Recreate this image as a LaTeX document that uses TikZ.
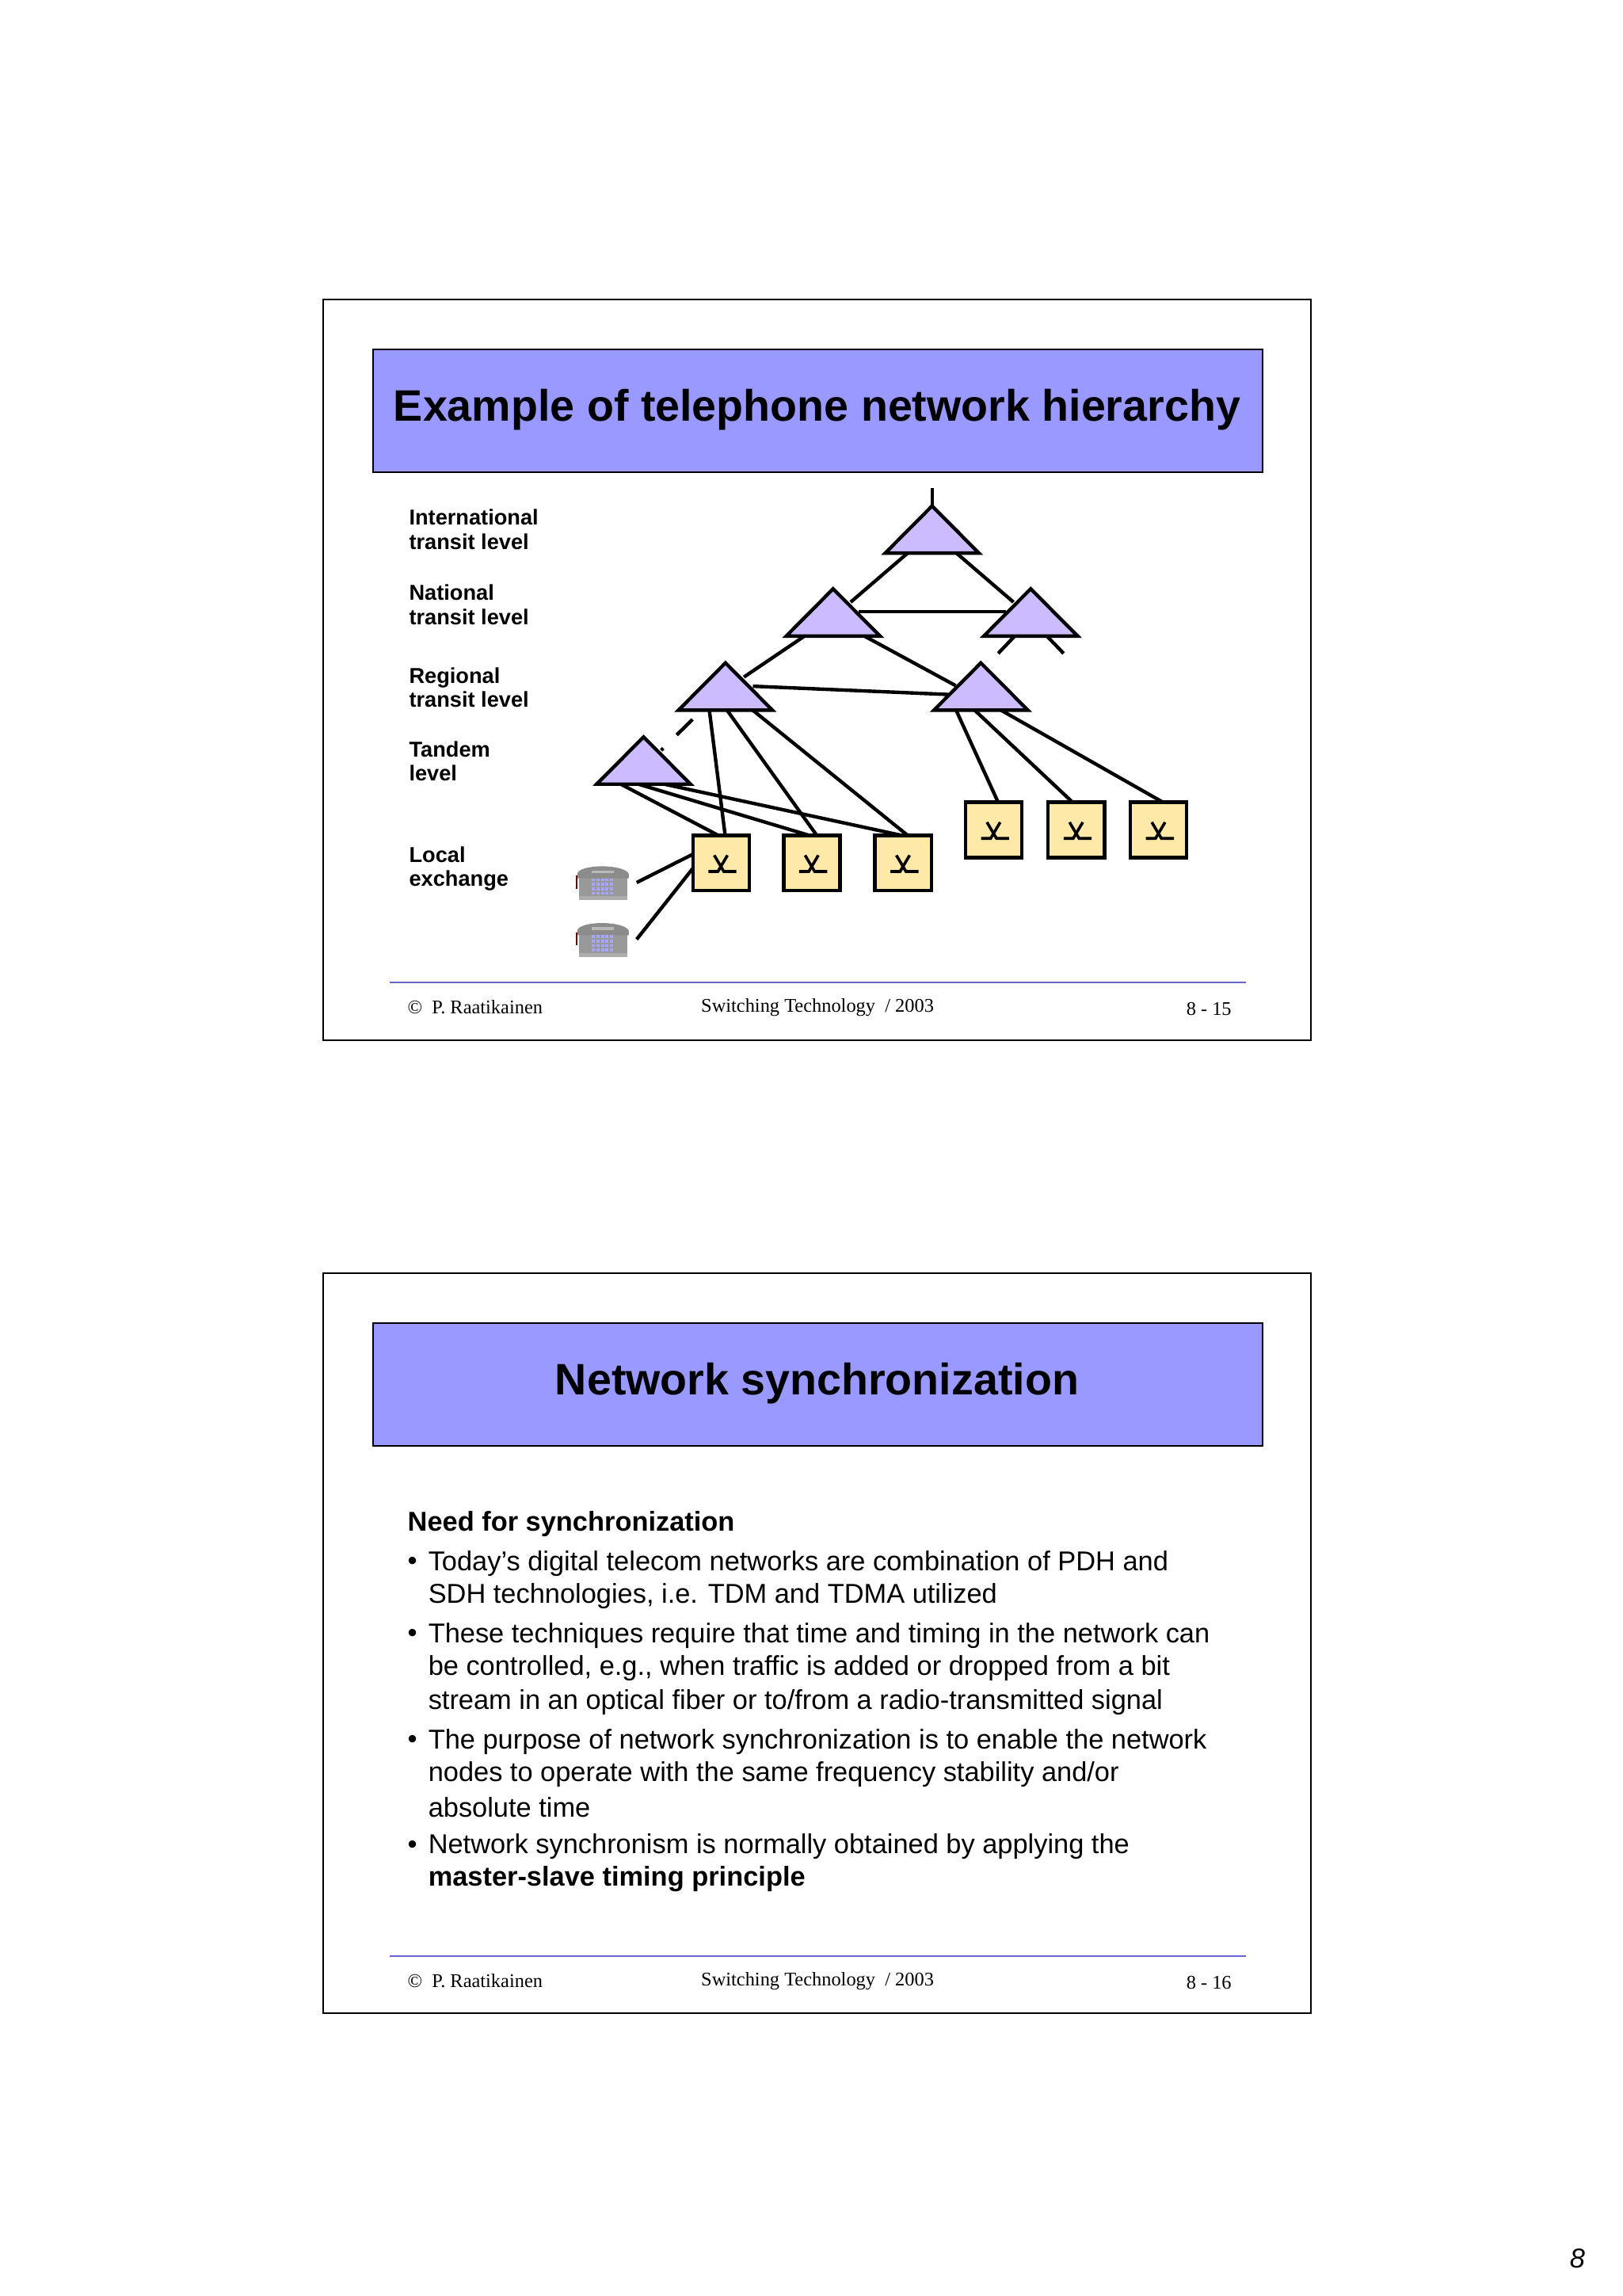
\documentclass[tikz,border=0pt]{standalone}
\usepackage{fontspec}
\setmainfont{Liberation Sans}
\newfontfamily\serifft{Liberation Serif}
\begin{document}
\begin{tikzpicture}[x=0.4655pt,y=-0.4655pt,
  tri/.style={fill=triC,draw=black,line width=1.1pt,line join=miter},
  lexbox/.style={draw=black,fill=boxC,line width=1.1pt},
  wire/.style={line width=1.1pt},
  lvl/.style={anchor=west,font=\fontsize{6.8}{7.6}\selectfont\bfseries,align=left,inner sep=0pt},
  foot/.style={anchor=west,font=\serifft\fontsize{6.1}{6.5}\selectfont,inner sep=0pt},
  body/.style={anchor=west,font=\fontsize{8.6}{10}\selectfont,inner sep=0pt}]
\definecolor{triC}{HTML}{CCBBFF}
\definecolor{boxC}{HTML}{FFE9A8}
\definecolor{titC}{HTML}{9999FF}
\definecolor{footC}{HTML}{6666CC}
\useasboundingbox (0,0) rectangle (1100,1556.5);
\fill[white] (0,0) rectangle (1100,1556.5);
% frames
\draw[line width=0.5pt] (219,203) rectangle (889,705);
\draw[line width=0.5pt] (219,863) rectangle (889,1365);
\draw[fill=titC,line width=0.5pt] (253,237) rectangle (856,320);
\draw[fill=titC,line width=0.5pt] (253,897) rectangle (856,980);
\node[font=\fontsize{13.9}{15}\selectfont\bfseries] (t1) at (554,278) {Example of telephone network hierarchy};
\node[font=\fontsize{13.9}{15}\selectfont\bfseries] (t2) at (554,938) {Network synchronization};
% footers
\draw[footC,line width=0.6pt] (264,666) -- (845,666);
\draw[footC,line width=0.6pt] (264,1326) -- (845,1326);
\node[foot] (f1a) at (276,683) {© \ P. Raatikainen};
\node[foot] (f1b) at (475,683) {Switching Technology \ / 2003};
\node[foot] (f1c) at (804,684) {8 - 15};
\node[foot] (f2a) at (276,1343) {© \ P. Raatikainen};
\node[foot] (f2b) at (475,1343) {Switching Technology \ / 2003};
\node[foot] (f2c) at (804,1344) {8 - 16};
\node[anchor=west,font=\fontsize{8.6}{9}\selectfont\itshape,inner sep=0pt] (pg) at (1064,1531) {8};
% level labels
\node[lvl] (l1) at (277,359) {International\\transit level};
\node[lvl] (l2) at (277,410) {National\\transit level};
\node[lvl] (l3) at (277,466) {Regional\\transit level};
\node[lvl] (l4) at (277,516) {Tandem\\level};
\node[lvl] (l5) at (277,589) {Local\\exchange};
% connectors
\draw[wire] (632,343) -- (632,331);
\draw[wire] (615.4,375) -- (576.8,408.2);
\draw[wire] (648.6,375) -- (687.2,408.2);
\draw[wire] (582.3,414.6) -- (682.3,414.6);
\draw[wire] (688.6,430.6) -- (676.8,443);
\draw[wire] (709.3,430.6) -- (721.2,443);
\draw[wire] (546.4,430.6) -- (504.4,459);
\draw[wire] (585,430.6) -- (648,464.8);
\draw[wire] (510.5,465.2) -- (643,470.8);
\draw[wire,dash pattern=on 7pt off 6pt] (469.6,487.7) -- (448.3,508.6);
\draw[wire] (480.9,480.8) -- (491.7,566.3);
\draw[wire] (492.5,480.8) -- (553.8,566.3);
\draw[wire] (509.6,480.8) -- (615.4,566.3);
\draw[wire] (419.8,531) -- (487,566.3);
\draw[wire] (430.9,531) -- (548.6,566.3);
\draw[wire] (447.7,531) -- (611.3,566.3);
\draw[wire] (648,480.8) -- (676.8,543.9);
\draw[wire] (660.2,480.8) -- (727.3,543.9);
\draw[wire] (677.6,480.8) -- (788.6,543.9);
\draw[wire] (431.7,598.3) -- (469.8,579.1);
\draw[wire] (431.7,636.8) -- (469.8,588.7);
% triangles
\foreach \ax/\ay in {632/343, 564.9/399.2, 698.9/399.2, 491.9/449.4, 665.1/449.4, 436.4/499.6}{
  \draw[tri] (\ax,\ay) -- ++(31.8,32) -- ++(-63.6,0) -- cycle;
}
% exchange boxes
\foreach \bx/\by in {469.8/566.3, 531.4/566.3, 593.3/566.3, 654.7/543.9, 710.7/543.9, 766.5/543.9}{
  \draw[lexbox] (\bx,\by) rectangle ++(38.2,37.4);
  \begin{scope}[shift={(\bx,\by)}]
    \draw[line width=0.9pt] (10.5,24.5) -- (17,24.5) -- (23.5,13.5);
    \draw[line width=0.9pt] (14.5,13.5) -- (21,24.5) -- (29.5,24.5);
  \end{scope}
}
% phones
\foreach \py in {584.5,623}{
  \begin{scope}[shift={(389.4,\py)}]
    \fill[gray!80] (3,9) rectangle (36,25);
    \fill[gray!65] (3,23) rectangle (36,25.8);
    \fill[gray!90] (2,8) .. controls (3,1) and (34,1) .. (37,8) -- (37,11) -- (2,11) -- cycle;
    \fill[gray!55] (12,5.5) rectangle (27,7.5);
    \draw[red!50!black,line width=0.6pt] (1.5,9) -- (1.5,18);
    \foreach \kx in {12,15,18,21,24}{\foreach \ky in {11,14,17,20}{
      \fill[blue!35] (\kx,\ky) rectangle ++(2.2,2);}}
  \end{scope}
}
% slide 2 body
\node[anchor=west,font=\fontsize{8.6}{10}\selectfont\bfseries,inner sep=0pt] (h) at (276,1033) {Need for synchronization};
\foreach \y in {1060,1109,1181,1252}{\node[body] at (276,\y) {•};}
\node[body] (b1) at (290,1060) {Today’s digital telecom networks are combination of PDH and};
\node[body] (b1b) at (290,1082) {SDH technologies, i.e. TDM and TDMA utilized};
\node[body] (b2) at (290,1109) {These techniques require that time and timing in the network can};
\node[body] (b2b) at (290,1131) {be controlled, e.g., when traffic is added or dropped from a bit};
\node[body] (b2c) at (290,1154) {stream in an optical fiber or to/from a radio-transmitted signal};
\node[body] (b3) at (290,1181) {The purpose of network synchronization is to enable the network};
\node[body] (b3b) at (290,1203) {nodes to operate with the same frequency stability and/or};
\node[body] (b3c) at (290,1225) {absolute time};
\node[body] (b4) at (290,1252) {Network synchronism is normally obtained by applying the};
\node[body,font=\fontsize{8.6}{10}\selectfont\bfseries] (b4b) at (290,1274) {master-slave timing principle};
\end{tikzpicture}
\end{document}
